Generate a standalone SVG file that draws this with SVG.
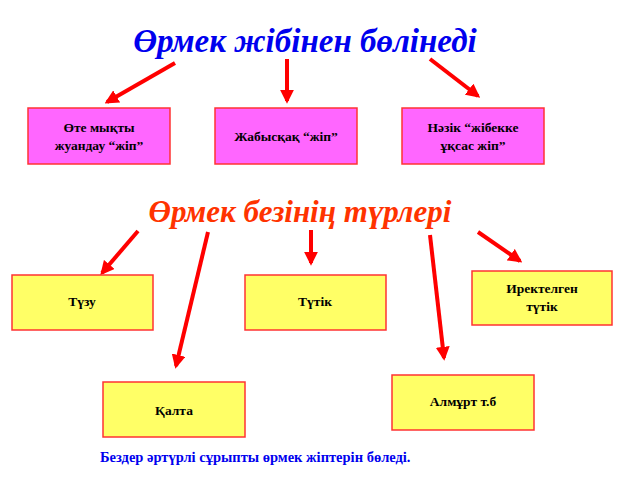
<svg xmlns="http://www.w3.org/2000/svg" width="640" height="480" viewBox="0 0 640 480">
<style>
.t{font-family:"Liberation Serif","DejaVu Serif",serif;font-weight:bold;font-size:13.5px;fill:#000;text-anchor:middle}
.h{font-family:"Liberation Serif","DejaVu Serif",serif;font-style:italic;font-weight:bold;text-anchor:middle}
.m{fill:#ff66ff;stroke:#ff3333;stroke-width:1.5}
.y{fill:#ffff66;stroke:#ff3333;stroke-width:1.5}
.a{stroke:#ff0000;stroke-width:4;fill:none;marker-end:url(#h)}
</style>
<defs><marker id="h" viewBox="0 0 10 10" refX="8" refY="5" markerWidth="3.5" markerHeight="3.5" orient="auto" markerUnits="strokeWidth"><path d="M0,0L10,5L0,10z" fill="#ff0000"/></marker></defs>
<rect width="640" height="480" fill="#fff"/>
<text class="h" x="305" y="52" font-size="33" fill="#0000ee">Өрмек жібінен бөлінеді</text>
<text class="h" x="300" y="222" font-size="31" fill="#ff3300">Өрмек безінің түрлері</text>
<g id="connectors">
<line class="a" x1="175" y1="63" x2="107" y2="102"/>
<line class="a" x1="287" y1="59" x2="287" y2="101"/>
<line class="a" x1="430" y1="59" x2="478" y2="96"/>
<line class="a" x1="138" y1="231" x2="102" y2="273"/>
<line class="a" x1="208" y1="232" x2="176" y2="366"/>
<line class="a" x1="311" y1="230" x2="311" y2="263"/>
<line class="a" x1="430" y1="235" x2="444" y2="358"/>
<line class="a" x1="478" y1="232" x2="520" y2="261"/>
</g>
<g id="n1"><rect class="m" x="28" y="108" width="142" height="56"/><text class="t" x="99" y="132">Өте мықты</text><text class="t" x="99" y="150">жуандау “жіп”</text></g>
<g id="n2"><rect class="m" x="215" y="108" width="142" height="56"/><text class="t" x="286" y="141">Жабысқақ “жіп”</text></g>
<g id="n3"><rect class="m" x="402" y="108" width="142" height="56"/><text class="t" x="473" y="132">Нәзік “жібекке</text><text class="t" x="473" y="150">ұқсас жіп”</text></g>
<g id="n4"><rect class="y" x="12" y="275" width="141" height="55"/><text class="t" x="82" y="306">Түзу</text></g>
<g id="n5"><rect class="y" x="245" y="275" width="141" height="55"/><text class="t" x="315" y="306">Түтік</text></g>
<g id="n6"><rect class="y" x="472" y="271" width="140" height="54"/><text class="t" x="542" y="293">Иректелген</text><text class="t" x="542" y="311">түтік</text></g>
<g id="n7"><rect class="y" x="103" y="382" width="142" height="55"/><text class="t" x="174" y="415">Қалта</text></g>
<g id="n8"><rect class="y" x="392" y="375" width="142" height="55"/><text class="t" x="463" y="406">Алмұрт т.б</text></g>
<text x="100" y="462" font-family="'Liberation Serif','DejaVu Serif',serif" font-weight="bold" font-size="14.5" fill="#0000ee">Бездер әртүрлі сұрыпты өрмек жіптерін бөледі.</text>
</svg>
